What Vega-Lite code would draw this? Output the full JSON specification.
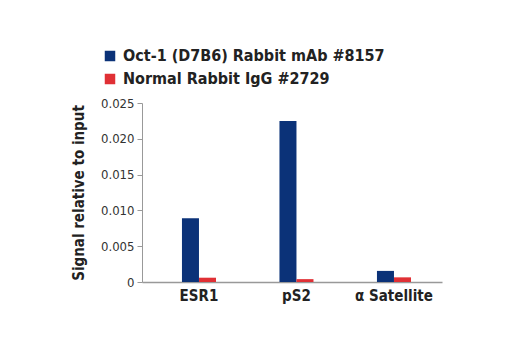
{
  "$schema": "https://vega.github.io/schema/vega-lite/v6.json",
  "width": 300,
  "height": 179,
  "autosize": "none",
  "padding": {"left": 142, "top": 103, "right": 78, "bottom": 68},
  "background": "white",
  "data": {
    "values": [
      {"target": "ESR1", "antibody": "Oct-1 (D7B6) Rabbit mAb #8157", "signal": 0.0089},
      {"target": "ESR1", "antibody": "Normal Rabbit IgG #2729", "signal": 0.0006},
      {"target": "pS2", "antibody": "Oct-1 (D7B6) Rabbit mAb #8157", "signal": 0.0225},
      {"target": "pS2", "antibody": "Normal Rabbit IgG #2729", "signal": 0.0004},
      {"target": "α Satellite", "antibody": "Oct-1 (D7B6) Rabbit mAb #8157", "signal": 0.00155},
      {"target": "α Satellite", "antibody": "Normal Rabbit IgG #2729", "signal": 0.00065}
    ]
  },
  "config": {
    "view": {"stroke": null},
    "font": "DejaVu Sans Condensed, Roboto, sans-serif"
  },
  "mark": {"type": "bar"},
  "encoding": {
    "x": {
      "field": "target",
      "type": "nominal",
      "sort": ["ESR1", "pS2", "α Satellite"],
      "scale": {"paddingInner": 0.651, "paddingOuter": 0.364, "align": 0.563},
      "axis": {
        "title": null,
        "labelAngle": 0,
        "ticks": false,
        "domainColor": "#999999",
        "domainWidth": 1.5,
        "labelFont": "DejaVu Sans Condensed, Roboto, sans-serif",
        "labelFontWeight": "bold",
        "labelFontSize": 15,
        "labelColor": "#222222",
        "labelPadding": 6
      }
    },
    "xOffset": {
      "field": "antibody",
      "type": "nominal",
      "sort": ["Oct-1 (D7B6) Rabbit mAb #8157", "Normal Rabbit IgG #2729"],
      "scale": {"paddingInner": 0, "paddingOuter": 0}
    },
    "y": {
      "field": "signal",
      "type": "quantitative",
      "scale": {"domain": [0, 0.025], "nice": false},
      "axis": {
        "title": "Signal relative to input",
        "titleFont": "DejaVu Sans Condensed, Roboto, sans-serif",
        "titleFontWeight": "bold",
        "titleFontSize": 15,
        "titleColor": "#222222",
        "titlePadding": 14,
        "values": [0, 0.005, 0.01, 0.015, 0.02, 0.025],
        "labelExpr": "datum.value == 0 ? '0' : format(datum.value, '.3f')",
        "grid": false,
        "domainColor": "#999999",
        "tickColor": "#999999",
        "tickSize": 5,
        "labelFont": "DejaVu Sans Condensed, Roboto, sans-serif",
        "labelFontSize": 13,
        "labelColor": "#333333",
        "labelPadding": 3
      }
    },
    "color": {
      "field": "antibody",
      "type": "nominal",
      "sort": ["Oct-1 (D7B6) Rabbit mAb #8157", "Normal Rabbit IgG #2729"],
      "scale": {"range": ["#0b3278", "#e03035"]},
      "legend": {
        "title": null,
        "orient": "none",
        "legendX": -40,
        "legendY": -55,
        "symbolType": "square",
        "symbolSize": 110,
        "symbolStrokeWidth": 0,
        "labelFont": "DejaVu Sans Condensed, Roboto, sans-serif",
        "labelFontWeight": "bold",
        "labelFontSize": 16,
        "labelLimit": 400,
        "labelColor": "#222222",
        "rowPadding": 7,
        "labelOffset": 5
      }
    }
  }
}
